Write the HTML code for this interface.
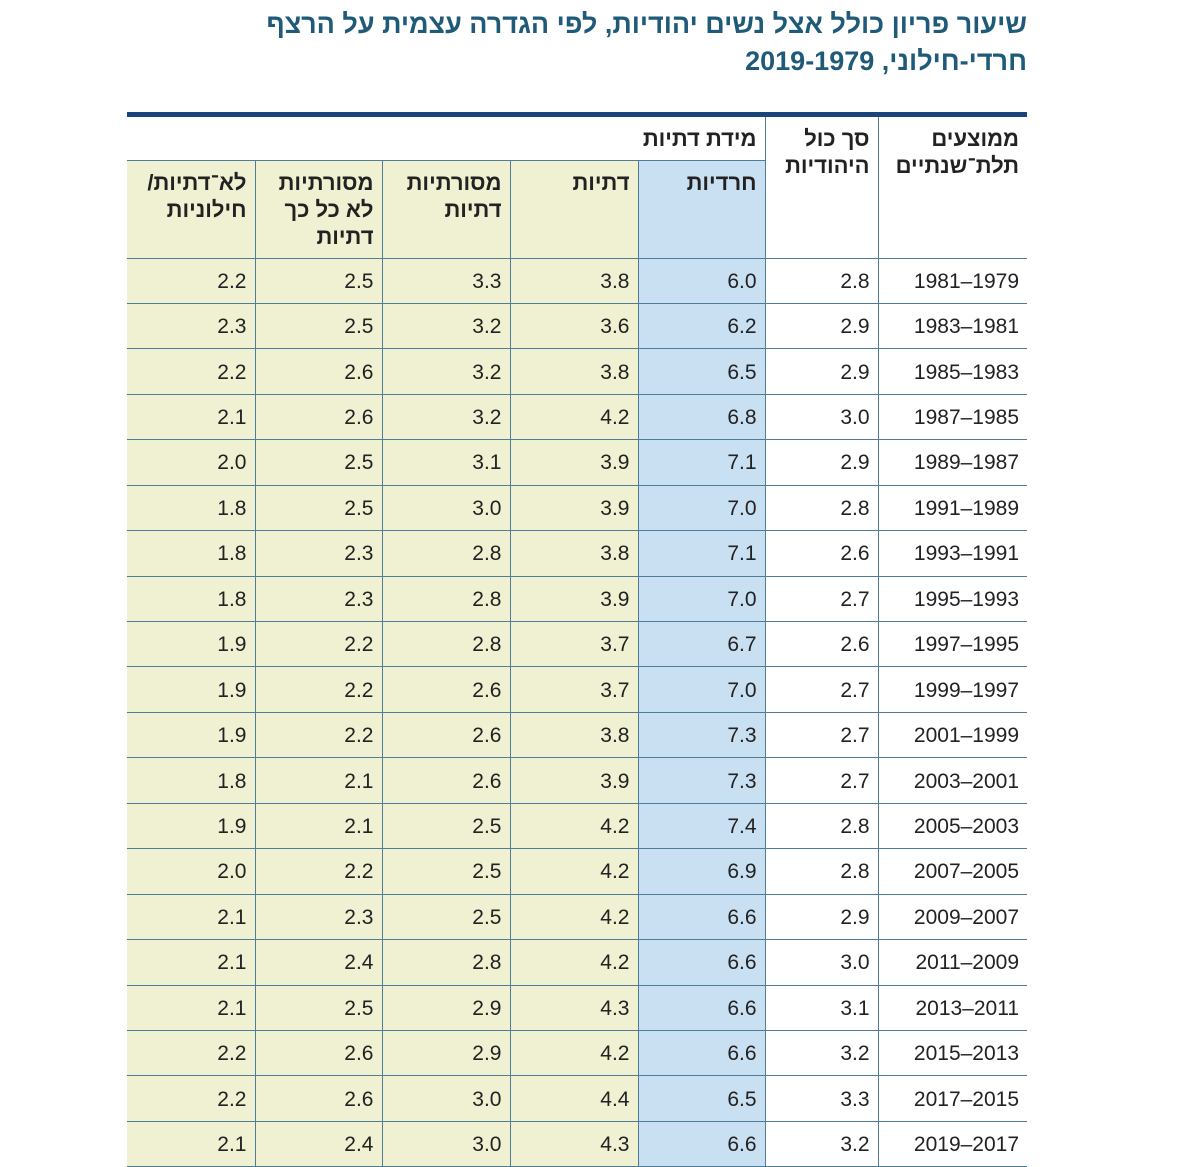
<!DOCTYPE html>
<html><head><meta charset="utf-8">
<style>
body{margin:0;width:1200px;height:1166px;background:#fff;overflow:hidden;font-family:"Liberation Sans","Noto Sans CJK SC",sans-serif;}
.t{position:absolute;right:173px;color:#1f5a78;font-weight:bold;font-size:27px;direction:rtl;white-space:nowrap;}
.bar{position:absolute;left:127px;top:112px;width:900px;height:5px;background:#18457a;}
table{position:absolute;left:127px;top:117px;width:900px;border-collapse:collapse;table-layout:fixed;font-size:21px;color:#222;}
td{border:1.5px solid #4f7d98;padding:0 8px;text-align:right;vertical-align:top;}
tr.d td{height:42.45px;vertical-align:middle;padding-top:2px;}
.y{background:#f0f0d2}
.b{background:#c9dff2}
.h{font-weight:bold;line-height:27px;padding-top:8px;direction:rtl;font-size:22px;}
tr td:first-child{border-left:none}
tr td:last-child{border-right:none}
</style></head><body>
<div class="t" style="top:9px">שיעור פריון כולל אצל נשים יהודיות, לפי הגדרה עצמית על הרצף</div>
<div class="t" style="top:46px">חרדי-חילוני, 2019-1979</div>
<div class="bar"></div>
<table>
<colgroup><col style="width:128px"><col style="width:127px"><col style="width:128px"><col style="width:128px"><col style="width:127px"><col style="width:113px"><col style="width:149px"></colgroup>
<tr style="height:43px"><td colspan="5" class="h" style="border-top:none;border-left:none">מידת דתיות</td><td rowspan="2" class="h" style="border-top:none">סך כול היהודיות</td><td rowspan="2" class="h" style="border-top:none">ממוצעים תלת־שנתיים</td></tr>
<tr style="height:98px"><td class="y h" style="border-left:none">לא־דתיות/ חילוניות</td><td class="y h">מסורתיות לא כל כך דתיות</td><td class="y h">מסורתיות דתיות</td><td class="y h">דתיות</td><td class="b h">חרדיות</td></tr>
<tr class="d"><td class="y">2.2</td><td class="y">2.5</td><td class="y">3.3</td><td class="y">3.8</td><td class="b">6.0</td><td>2.8</td><td>1981–1979</td></tr>
<tr class="d"><td class="y">2.3</td><td class="y">2.5</td><td class="y">3.2</td><td class="y">3.6</td><td class="b">6.2</td><td>2.9</td><td>1983–1981</td></tr>
<tr class="d"><td class="y">2.2</td><td class="y">2.6</td><td class="y">3.2</td><td class="y">3.8</td><td class="b">6.5</td><td>2.9</td><td>1985–1983</td></tr>
<tr class="d"><td class="y">2.1</td><td class="y">2.6</td><td class="y">3.2</td><td class="y">4.2</td><td class="b">6.8</td><td>3.0</td><td>1987–1985</td></tr>
<tr class="d"><td class="y">2.0</td><td class="y">2.5</td><td class="y">3.1</td><td class="y">3.9</td><td class="b">7.1</td><td>2.9</td><td>1989–1987</td></tr>
<tr class="d"><td class="y">1.8</td><td class="y">2.5</td><td class="y">3.0</td><td class="y">3.9</td><td class="b">7.0</td><td>2.8</td><td>1991–1989</td></tr>
<tr class="d"><td class="y">1.8</td><td class="y">2.3</td><td class="y">2.8</td><td class="y">3.8</td><td class="b">7.1</td><td>2.6</td><td>1993–1991</td></tr>
<tr class="d"><td class="y">1.8</td><td class="y">2.3</td><td class="y">2.8</td><td class="y">3.9</td><td class="b">7.0</td><td>2.7</td><td>1995–1993</td></tr>
<tr class="d"><td class="y">1.9</td><td class="y">2.2</td><td class="y">2.8</td><td class="y">3.7</td><td class="b">6.7</td><td>2.6</td><td>1997–1995</td></tr>
<tr class="d"><td class="y">1.9</td><td class="y">2.2</td><td class="y">2.6</td><td class="y">3.7</td><td class="b">7.0</td><td>2.7</td><td>1999–1997</td></tr>
<tr class="d"><td class="y">1.9</td><td class="y">2.2</td><td class="y">2.6</td><td class="y">3.8</td><td class="b">7.3</td><td>2.7</td><td>2001–1999</td></tr>
<tr class="d"><td class="y">1.8</td><td class="y">2.1</td><td class="y">2.6</td><td class="y">3.9</td><td class="b">7.3</td><td>2.7</td><td>2003–2001</td></tr>
<tr class="d"><td class="y">1.9</td><td class="y">2.1</td><td class="y">2.5</td><td class="y">4.2</td><td class="b">7.4</td><td>2.8</td><td>2005–2003</td></tr>
<tr class="d"><td class="y">2.0</td><td class="y">2.2</td><td class="y">2.5</td><td class="y">4.2</td><td class="b">6.9</td><td>2.8</td><td>2007–2005</td></tr>
<tr class="d"><td class="y">2.1</td><td class="y">2.3</td><td class="y">2.5</td><td class="y">4.2</td><td class="b">6.6</td><td>2.9</td><td>2009–2007</td></tr>
<tr class="d"><td class="y">2.1</td><td class="y">2.4</td><td class="y">2.8</td><td class="y">4.2</td><td class="b">6.6</td><td>3.0</td><td>2011–2009</td></tr>
<tr class="d"><td class="y">2.1</td><td class="y">2.5</td><td class="y">2.9</td><td class="y">4.3</td><td class="b">6.6</td><td>3.1</td><td>2013–2011</td></tr>
<tr class="d"><td class="y">2.2</td><td class="y">2.6</td><td class="y">2.9</td><td class="y">4.2</td><td class="b">6.6</td><td>3.2</td><td>2015–2013</td></tr>
<tr class="d"><td class="y">2.2</td><td class="y">2.6</td><td class="y">3.0</td><td class="y">4.4</td><td class="b">6.5</td><td>3.3</td><td>2017–2015</td></tr>
<tr class="d"><td class="y">2.1</td><td class="y">2.4</td><td class="y">3.0</td><td class="y">4.3</td><td class="b">6.6</td><td>3.2</td><td>2019–2017</td></tr>
</table>
</body></html>
